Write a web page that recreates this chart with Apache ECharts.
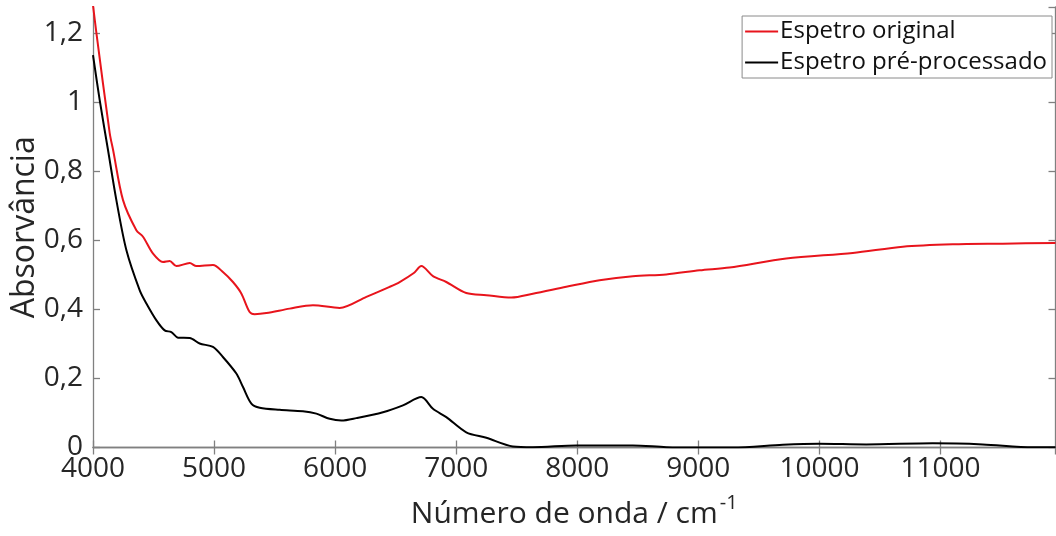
<!DOCTYPE html>
<html>
<head>
<meta charset="utf-8">
<script src="https://cdn.jsdelivr.net/npm/echarts@6/dist/echarts.min.js"></script>
<style>html,body{margin:0;padding:0;background:#fff}#c{width:1056px;height:536px}</style>
</head>
<body>
<div id="c"></div>
<script>
const xTicks = [4000, 5000, 6000, 7000, 8000, 9000, 10000, 11000];
const yTicks = [0, 0.2, 0.4, 0.6, 0.8, 1, 1.2];
const seriesNames = ['Espetro original', 'Espetro pré-processado'];

const originalWavenumber = [4000, 4028, 4138, 4166, 4248, 4358, 4413, 4496, 4578, 4633, 4689, 4799, 4854, 4991, 5073, 5156, 5225, 5294, 5335, 5432, 5624, 5817, 6037, 6258, 6450, 6533, 6650, 6712, 6808, 6918, 7083, 7249, 7455, 7633, 7909, 8184, 8459, 8734, 9010, 9257, 9726, 10276, 10689, 11102, 11514, 11950];
const originalAbs = [1.28, 1.2, 0.91, 0.861, 0.716, 0.629, 0.61, 0.561, 0.537, 0.54, 0.525, 0.534, 0.525, 0.528, 0.508, 0.479, 0.446, 0.392, 0.386, 0.389, 0.402, 0.412, 0.404, 0.436, 0.465, 0.479, 0.505, 0.525, 0.496, 0.479, 0.447, 0.441, 0.434, 0.445, 0.465, 0.484, 0.496, 0.501, 0.513, 0.521, 0.547, 0.563, 0.581, 0.588, 0.59, 0.592];

const processedWavenumber = [4000, 4055, 4124, 4193, 4276, 4386, 4441, 4524, 4592, 4647, 4702, 4799, 4881, 4991, 5073, 5184, 5239, 5308, 5377, 5542, 5734, 5845, 5955, 6051, 6175, 6395, 6560, 6712, 6808, 6918, 7083, 7249, 7468, 7633, 7992, 8459, 8734, 9010, 9285, 9698, 9995, 10386, 10936, 11349, 11762, 11950];
const processedAbs = [1.136, 1.006, 0.861, 0.716, 0.571, 0.455, 0.417, 0.368, 0.339, 0.334, 0.318, 0.317, 0.301, 0.291, 0.262, 0.214, 0.175, 0.127, 0.115, 0.109, 0.105, 0.098, 0.083, 0.078, 0.085, 0.102, 0.122, 0.146, 0.112, 0.088, 0.044, 0.028, 0.003, 0.001, 0.006, 0.006, 0.001, 0.0, 0.0, 0.008, 0.011, 0.009, 0.012, 0.009, 0.001, 0.001];

const FONT = '"Open Sans", "Noto Sans", sans-serif';
const axisGray = '#808080';
const textCol = '#262626';

const pairs = (xs, ys) => xs.map((x, i) => [x, ys[i]]);
const fmtY = v => String(Math.round(v * 10) / 10).replace('.', ',');

const chart = echarts.init(document.getElementById('c'), null, {renderer: 'canvas'});
const xBase = {
  type: 'value', min: xTicks[0], max: 11950, interval: xTicks[1] - xTicks[0],
  axisLine: {show: true, lineStyle: {color: axisGray, width: 1.3}},
  axisTick: {show: true, inside: true, length: 7, lineStyle: {color: axisGray, width: 1.3}},
  splitLine: {show: false}
};
const yBase = {
  type: 'value', min: yTicks[0], max: 1.275, interval: yTicks[1] - yTicks[0],
  axisLine: {show: true, lineStyle: {color: axisGray, width: 1.3}},
  axisTick: {show: true, inside: true, length: 7, lineStyle: {color: axisGray, width: 1.3}},
  splitLine: {show: false}
};
chart.setOption({
  animation: false,
  backgroundColor: '#fff',
  grid: {left: 93, top: 7, right: 0.5, bottom: 88.5, containLabel: false, outerBoundsMode: 'none'},
  legend: {
    data: seriesNames,
    orient: 'vertical', right: 4, top: 16,
    backgroundColor: '#fff', borderColor: '#8a8a8a', borderWidth: 1,
    padding: [0, 5, 0, 3], itemGap: 0,
    itemWidth: 33, itemHeight: 2, icon: 'rect',
    textStyle: {fontFamily: FONT, fontSize: 24, color: '#111', lineHeight: 31, padding: [0, 0, 0, -3]}
  },
  xAxis: [
    Object.assign({}, xBase, {
      position: 'bottom',
      axisLabel: {show: true, margin: 8, fontFamily: FONT, fontSize: 28, color: textCol,
        formatter: v => String(v), showMaxLabel: false},
      name: '{a|Número de onda / cm}{s|-1}', nameLocation: 'middle', nameGap: 46, nameMoveOverlap: false,
      nameTextStyle: {rich: {
        a: {fontFamily: FONT, fontSize: 30, color: textCol, verticalAlign: 'bottom', lineHeight: 36},
        s: {fontFamily: FONT, fontSize: 20, color: textCol, verticalAlign: 'top', padding: [0, 0, 14, 2], lineHeight: 36}
      }}
    }),
    Object.assign({}, xBase, {position: 'top', axisLabel: {show: false}})
  ],
  yAxis: [
    Object.assign({}, yBase, {
      position: 'left',
      axisLabel: {show: true, margin: 10, fontFamily: FONT, fontSize: 28, color: textCol, formatter: fmtY, showMaxLabel: false},
      name: 'Absorvância', nameLocation: 'middle', nameGap: 52, nameMoveOverlap: false,
      nameTextStyle: {fontFamily: FONT, fontSize: 32, color: textCol}
    }),
    Object.assign({}, yBase, {position: 'right', axisLabel: {show: false}})
  ],
  series: [
    {name: seriesNames[0], type: 'line', data: pairs(originalWavenumber, originalAbs),
      showSymbol: false, symbol: 'none', smooth: 0.3, clip: true,
      lineStyle: {color: '#e8141c', width: 2}, itemStyle: {color: '#e8141c'}},
    {name: seriesNames[1], type: 'line', data: pairs(processedWavenumber, processedAbs),
      showSymbol: false, symbol: 'none', smooth: 0.3, clip: true,
      lineStyle: {color: '#000', width: 2}, itemStyle: {color: '#000'}}
  ]
});
</script>
</body>
</html>
